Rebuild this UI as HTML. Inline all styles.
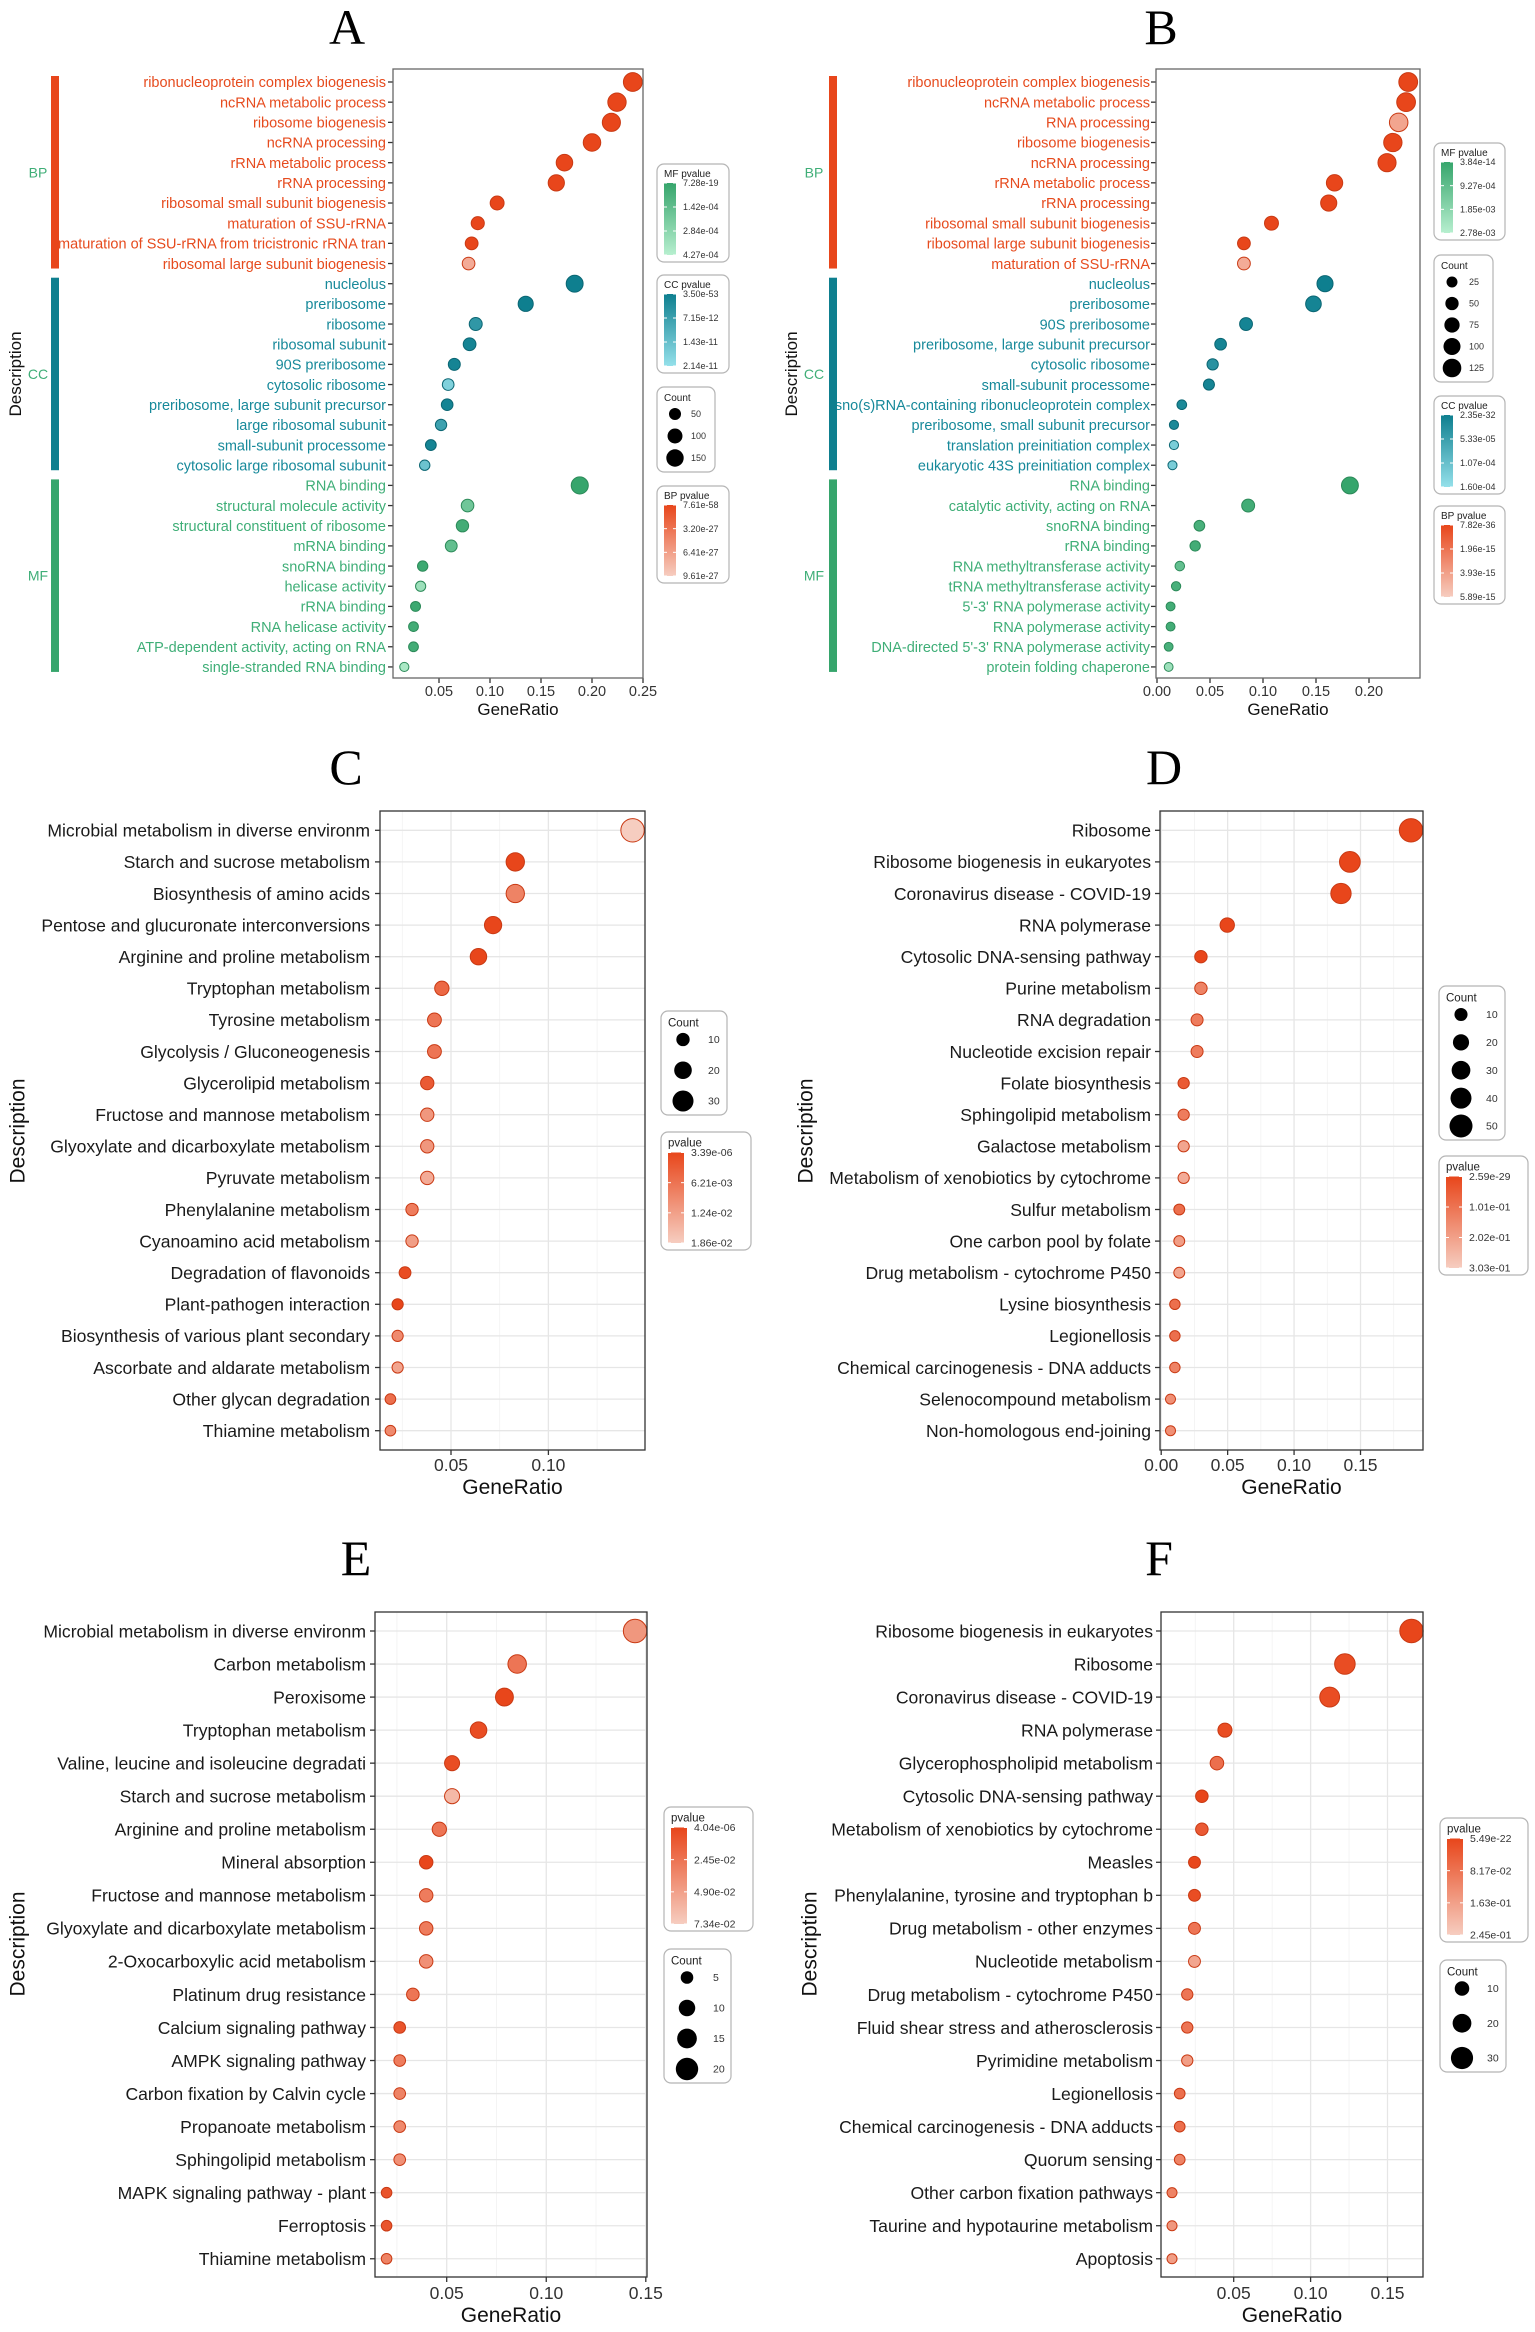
<!DOCTYPE html>
<html><head><meta charset="utf-8">
<style>
html,body{margin:0;padding:0;background:#fff;}
svg{display:block;font-family:"Liberation Sans",sans-serif;}
</style></head>
<body>
<svg id="fig" width="1535" height="2332" viewBox="0 0 1535 2332" xmlns="http://www.w3.org/2000/svg"></svg>
<script>
// ---------------- DATA ----------------
const catsA = ["ribonucleoprotein complex biogenesis","ncRNA metabolic process","ribosome biogenesis","ncRNA processing","rRNA metabolic process","rRNA processing","ribosomal small subunit biogenesis","maturation of SSU-rRNA","maturation of SSU-rRNA from tricistronic rRNA tran","ribosomal large subunit biogenesis",
"nucleolus","preribosome","ribosome","ribosomal subunit","90S preribosome","cytosolic ribosome","preribosome, large subunit precursor","large ribosomal subunit","small-subunit processome","cytosolic large ribosomal subunit",
"RNA binding","structural molecule activity","structural constituent of ribosome","mRNA binding","snoRNA binding","helicase activity","rRNA binding","RNA helicase activity","ATP-dependent activity, acting on RNA","single-stranded RNA binding"];
const groupA = ["BP","BP","BP","BP","BP","BP","BP","BP","BP","BP","CC","CC","CC","CC","CC","CC","CC","CC","CC","CC","MF","MF","MF","MF","MF","MF","MF","MF","MF","MF"];
const ratioA = [0.240,0.2245,0.219,0.200,0.173,0.165,0.107,0.088,0.082,0.079, 0.183,0.135,0.086,0.080,0.065,0.059,0.058,0.052,0.042,0.036, 0.188,0.078,0.073,0.062,0.034,0.032,0.027,0.025,0.025,0.016];
const countA = [182,171,166,152,131,125,81,67,62,60, 139,103,65,61,49,45,44,40,32,27, 143,59,55,47,26,24,21,19,19,12];
const shadeA = [0,0,0,0,0,0,0,0,0,0.75, 0,0,0.25,0.05,0.05,0.85,0.05,0.35,0.05,0.7, 0,0.45,0.1,0.35,0.05,0.8,0.05,0.1,0.1,0.9];
const ticksA = [0.05,0.10,0.15,0.20,0.25];
const tickLabelsA = ["0.05","0.10","0.15","0.20","0.25"];
const sizeLegA = [50,100,150];

const catsB = ["ribonucleoprotein complex biogenesis","ncRNA metabolic process","RNA processing","ribosome biogenesis","ncRNA processing","rRNA metabolic process","rRNA processing","ribosomal small subunit biogenesis","ribosomal large subunit biogenesis","maturation of SSU-rRNA",
"nucleolus","preribosome","90S preribosome","preribosome, large subunit precursor","cytosolic ribosome","small-subunit processome","sno(s)RNA-containing ribonucleoprotein complex","preribosome, small subunit precursor","translation preinitiation complex","eukaryotic 43S preinitiation complex",
"RNA binding","catalytic activity, acting on RNA","snoRNA binding","rRNA binding","RNA methyltransferase activity","tRNA methyltransferase activity","5'-3' RNA polymerase activity","RNA polymerase activity","DNA-directed 5'-3' RNA polymerase activity","protein folding chaperone"];
const groupB = groupA.slice();
const ratioB = [0.237,0.235,0.228,0.2225,0.217,0.1675,0.162,0.108,0.082,0.082, 0.1585,0.1476,0.084,0.060,0.0525,0.049,0.0234,0.016,0.016,0.0146, 0.182,0.086,0.040,0.036,0.0215,0.018,0.0128,0.0128,0.011,0.011];
const countB = [128,127,123,120,117,90,87,58,44,44, 86,80,45,32,28,26,13,9,9,8, 98,46,22,19,12,10,7,7,6,6];
const shadeB = [0,0,0.7,0,0,0,0,0,0,0.75, 0,0.05,0.05,0.05,0.2,0.05,0.1,0.1,0.8,0.8, 0,0.1,0.15,0.1,0.35,0.15,0.1,0.1,0.15,0.8];
const ticksB = [0,0.05,0.10,0.15,0.20];
const tickLabelsB = ["0.00","0.05","0.10","0.15","0.20"];
const sizeLegB = [25,50,75,100,125];

const catsC = ["Microbial metabolism in diverse environm","Starch and sucrose metabolism","Biosynthesis of amino acids","Pentose and glucuronate interconversions","Arginine and proline metabolism","Tryptophan metabolism","Tyrosine metabolism","Glycolysis / Gluconeogenesis","Glycerolipid metabolism","Fructose and mannose metabolism","Glyoxylate and dicarboxylate metabolism","Pyruvate metabolism","Phenylalanine metabolism","Cyanoamino acid metabolism","Degradation of flavonoids","Plant-pathogen interaction","Biosynthesis of various plant secondary ","Ascorbate and aldarate metabolism","Other glycan degradation","Thiamine metabolism"];
const ratioC = [0.1432,0.083,0.083,0.0716,0.0641,0.0453,0.0415,0.0415,0.0378,0.0378,0.0378,0.0378,0.030,0.030,0.0264,0.0226,0.0226,0.0226,0.0189,0.0189];
const countC = [38,22,22,19,17,12,11,11,10,10,10,10,8,8,7,6,6,6,5,5];
const shadeC = [1,0,0.45,0,0,0.25,0.35,0.35,0.15,0.6,0.6,0.75,0.4,0.65,0.05,0,0.5,0.7,0.3,0.5];
const ticksC = [0.05,0.10];
const tickLabelsC = ["0.05","0.10"];
const sizeLegC = [10,20,30];
const pLabC = ["3.39e-06","6.21e-03","1.24e-02","1.86e-02"];

const catsD = ["Ribosome","Ribosome biogenesis in eukaryotes","Coronavirus disease - COVID-19","RNA polymerase","Cytosolic DNA-sensing pathway","Purine metabolism","RNA degradation","Nucleotide excision repair","Folate biosynthesis","Sphingolipid metabolism","Galactose metabolism","Metabolism of xenobiotics by cytochrome ","Sulfur metabolism","One carbon pool by folate","Drug metabolism - cytochrome P450","Lysine biosynthesis","Legionellosis","Chemical carcinogenesis - DNA adducts","Selenocompound metabolism","Non-homologous end-joining"];
const ratioD = [0.188,0.142,0.1353,0.0497,0.0299,0.0299,0.027,0.027,0.0169,0.0169,0.0169,0.0169,0.0136,0.0136,0.0136,0.0103,0.0103,0.0103,0.007,0.007];
const countD = [52,39,37,14,8,8,7,7,5,5,5,5,4,4,4,3,3,3,2,2];
const shadeD = [0,0,0,0,0,0.45,0.4,0.4,0.15,0.4,0.7,0.75,0.3,0.65,0.7,0.3,0.3,0.45,0.55,0.55];
const ticksD = [0,0.05,0.10,0.15];
const tickLabelsD = ["0.00","0.05","0.10","0.15"];
const sizeLegD = [10,20,30,40,50];
const pLabD = ["2.59e-29","1.01e-01","2.02e-01","3.03e-01"];

const catsE = ["Microbial metabolism in diverse environm","Carbon metabolism","Peroxisome","Tryptophan metabolism","Valine, leucine and isoleucine degradati","Starch and sucrose metabolism","Arginine and proline metabolism","Mineral absorption","Fructose and mannose metabolism","Glyoxylate and dicarboxylate metabolism","2-Oxocarboxylic acid metabolism","Platinum drug resistance","Calcium signaling pathway","AMPK signaling pathway","Carbon fixation by Calvin cycle","Propanoate metabolism","Sphingolipid metabolism","MAPK signaling pathway - plant","Ferroptosis","Thiamine metabolism"];
const ratioE = [0.1446,0.0854,0.079,0.066,0.0527,0.0527,0.0463,0.0397,0.0397,0.0397,0.0397,0.033,0.0264,0.0264,0.0264,0.0264,0.0264,0.0198,0.0198,0.0198];
const countE = [22,13,12,10,8,8,7,6,6,6,6,5,4,4,4,4,4,3,3,3];
const shadeE = [0.6,0.35,0,0.05,0.05,0.85,0.35,0,0.4,0.4,0.55,0.35,0.1,0.4,0.45,0.5,0.55,0.1,0.1,0.45];
const ticksE = [0.05,0.10,0.15];
const tickLabelsE = ["0.05","0.10","0.15"];
const sizeLegE = [5,10,15,20];
const pLabE = ["4.04e-06","2.45e-02","4.90e-02","7.34e-02"];

const catsF = ["Ribosome biogenesis in eukaryotes","Ribosome","Coronavirus disease - COVID-19","RNA polymerase","Glycerophospholipid metabolism","Cytosolic DNA-sensing pathway","Metabolism of xenobiotics by cytochrome ","Measles","Phenylalanine, tyrosine and tryptophan b","Drug metabolism - other enzymes","Nucleotide metabolism","Drug metabolism - cytochrome P450","Fluid shear stress and atherosclerosis","Pyrimidine metabolism","Legionellosis","Chemical carcinogenesis - DNA adducts","Quorum sensing","Other carbon fixation pathways","Taurine and hypotaurine metabolism","Apoptosis"];
const ratioF = [0.1656,0.1223,0.1124,0.0443,0.0391,0.0293,0.0293,0.0245,0.0245,0.0245,0.0245,0.0198,0.0198,0.0198,0.0149,0.0149,0.0149,0.0099,0.0099,0.0099];
const countF = [34,25,23,9,8,6,6,5,5,5,5,4,4,4,3,3,3,2,2,2];
const shadeF = [0,0.05,0.05,0.05,0.3,0,0.15,0,0.05,0.35,0.7,0.35,0.35,0.65,0.3,0.3,0.45,0.45,0.6,0.65];
const ticksF = [0.05,0.10,0.15];
const tickLabelsF = ["0.05","0.10","0.15"];
const sizeLegF = [10,20,30];
const pLabF = ["5.49e-22","8.17e-02","1.63e-01","2.45e-01"];

const pLabA_MF = ["7.28e-19","1.42e-04","2.84e-04","4.27e-04"];
const pLabA_CC = ["3.50e-53","7.15e-12","1.43e-11","2.14e-11"];
const pLabA_BP = ["7.61e-58","3.20e-27","6.41e-27","9.61e-27"];
const pLabB_MF = ["3.84e-14","9.27e-04","1.85e-03","2.78e-03"];
const pLabB_CC = ["2.35e-32","5.33e-05","1.07e-04","1.60e-04"];
const pLabB_BP = ["7.82e-36","1.96e-15","3.93e-15","5.89e-15"];

// ---------------- HELPERS ----------------
const NS = "http://www.w3.org/2000/svg";
const svg = document.getElementById("fig");
function mk(tag, attrs, parent){
  const e = document.createElementNS(NS, tag);
  for (const k in attrs) e.setAttribute(k, attrs[k]);
  (parent || svg).appendChild(e);
  return e;
}
const PAL = {
  red:  {dark:[232,70,27],  light:[246,205,192], text:"#e64b1e", stroke:"#c93a14"},
  teal: {dark:[14,127,143], light:[148,224,234], text:"#17899a", stroke:"#0b6673"},
  green:{dark:[54,165,108], light:[183,239,207], text:"#3fae77", stroke:"#2c8a59"}
};
const GCOL = {BP:"red", CC:"teal", MF:"green"};
function mix(p, t){
  const c = p.dark.map((d,i)=>Math.round(d + (p.light[i]-d)*t));
  return "rgb(" + c.join(",") + ")";
}
const defs = mk("defs", {});
Object.keys(PAL).forEach(k=>{
  const g = mk("linearGradient", {id:"grad-"+k, x1:0, y1:0, x2:0, y2:1}, defs);
  mk("stop", {offset:"0", "stop-color":mix(PAL[k],0)}, g);
  mk("stop", {offset:"1", "stop-color":mix(PAL[k],1)}, g);
});

function colorLegend(g, x, y, w, h, title, labels, palKey, fs, barW){
  const lg = mk("g", {}, g);
  
  
  mk("rect", {x:x, y:y, width:w, height:h, rx:7, fill:"#fff", stroke:"#b5b5b5", "stroke-width":1.2}, lg);
  mk("text", {x:x+7, y:y+fs+4, "font-size":fs+1, fill:"#222"}, lg).textContent = title;
  const by0 = y + fs + 10, by1 = y + h - 7;
  mk("rect", {x:x+7, y:by0, width:barW, height:by1-by0, fill:"url(#grad-"+palKey+")"}, lg);
  labels.forEach((lab,i)=>{
    const yy = by0 + (by1-by0)*i/(labels.length-1);
    mk("line", {x1:x+7, x2:x+10, y1:yy, y2:yy, stroke:"#fff", "stroke-width":1}, lg);
    mk("line", {x1:x+7+barW-3, x2:x+7+barW, y1:yy, y2:yy, stroke:"#fff", "stroke-width":1}, lg);
    const t = mk("text", {x:x+barW+14, y:yy+fs*0.35, "font-size":fs, fill:"#333"}, lg);
    t.textContent = lab;
  });
}
function sizeLegend(g, x, y, w, h, vals, rfun, fs, dotDx, labDx){
  const lg = mk("g", {}, g);
  
  
  mk("rect", {x:x, y:y, width:w, height:h, rx:7, fill:"#fff", stroke:"#b5b5b5", "stroke-width":1.2}, lg);
  mk("text", {x:x+7, y:y+fs+5, "font-size":fs+1, fill:"#222"}, lg).textContent = "Count";
  const y0 = y + fs + 18, y1 = y + h - 14;
  vals.forEach((v,i)=>{
    const yy = vals.length>1 ? y0 + (y1-y0)*i/(vals.length-1) : y0;
    const c = mk("circle", {cx:x+dotDx, cy:yy, r:rfun(v), fill:"#000"}, lg);
    
    
    mk("text", {x:x+labDx, y:yy+fs*0.35, "font-size":fs, fill:"#333"}, lg).textContent = v;
  });
}

function panel(P){
  const g = mk("g", {});
  
  
  const n = P.cats.length;
  const xs = v => P.x0 + (v - P.v0) * P.k;
  const ys = i => P.row0 + i * P.step;
  const cmin = Math.min.apply(null, P.count), cmax = Math.max.apply(null, P.count);
  const rfun = c => { const f = Math.max(0, Math.min(1.2, (c - cmin) / (cmax - cmin || 1))); return Math.sqrt(P.rmin*P.rmin + (P.rmax*P.rmax - P.rmin*P.rmin) * f); };
  const tt = mk("text", {x:P.titleX, y:P.titleY, "font-size":50, "font-family":"Liberation Serif, serif", "text-anchor":"middle", fill:"#000"}, g);
  tt.textContent = P.letter;
  
  
  const b = P.box;
  mk("rect", {x:b[0], y:b[1], width:b[2]-b[0], height:b[3]-b[1], fill:"#fff"}, g);
  if (P.grid){
    const gg = mk("g", {}, g);
    
    
    const step = P.ticks[1] - P.ticks[0];
    for (let v = P.ticks[0] - step*2; v <= P.ticks[P.ticks.length-1] + step*2; v += step/2){
      const X = xs(v);
      if (X <= b[0]+0.5 || X >= b[2]-0.5) continue;
      const major = Math.abs(Math.round(v/step)*step - v) < 1e-9;
      mk("line", {x1:X, x2:X, y1:b[1], y2:b[3], stroke: major ? "#e6e6e6" : "#f2f2f2", "stroke-width": major ? 1.3 : 0.8}, gg);
    }
    for (let i = 0; i < n; i++) mk("line", {x1:b[0], x2:b[2], y1:ys(i), y2:ys(i), stroke:"#e6e6e6", "stroke-width":1.3}, gg);
  }
  for (let i = 0; i < n; i++){
    const col = P.group ? PAL[GCOL[P.group[i]]].text : "#1a1a1a";
    const t = mk("text", {x:P.labX, y:ys(i) + P.lfs*0.36, "font-size":P.lfs, "text-anchor":"end", fill:col, "xml:space":"preserve"}, g);
    t.textContent = P.cats[i];
    
    
    mk("line", {x1:b[0]-5, x2:b[0], y1:ys(i), y2:ys(i), stroke:"#333", "stroke-width":1.3}, g);
  }
  P.ticks.forEach((v,i)=>{
    const X = xs(v);
    mk("line", {x1:X, x2:X, y1:b[3], y2:b[3]+5, stroke:"#333", "stroke-width":1.3}, g);
    const t = mk("text", {x:X, y:b[3]+P.xtOff, "font-size":P.xfs, "text-anchor":"middle", fill:"#333"}, g);
    t.textContent = P.tickLabels[i];
    
    
  });
  const xt = mk("text", {x:(b[0]+b[2])/2, y:b[3]+P.xtitOff, "font-size":P.xtfs, "text-anchor":"middle", fill:"#111"}, g);
  xt.textContent = "GeneRatio";
  
  
  const yt = mk("text", {x:0, y:0, "font-size":P.ytfs, "text-anchor":"middle", fill:"#111", transform:"translate("+P.descX+","+P.descY+") rotate(-90)", dy:"0.35em"}, g);
  yt.textContent = "Description";
  
  
  if (P.group){
    ["BP","CC","MF"].forEach(G=>{
      const idx = []; P.group.forEach((gg,i)=>{ if (gg===G) idx.push(i); });
      if (!idx.length) return;
      const y0 = ys(idx[0]) - 6, y1 = ys(idx[idx.length-1]) + 5;
      const r = mk("rect", {x:P.barX, y:y0, width:8, height:y1-y0, fill:mix(PAL[GCOL[G]],0)}, g);
      
      
      const t = mk("text", {x:P.grpX, y:(y0+y1)/2 + 5, "font-size":14, "text-anchor":"middle", fill:"#3fae77"}, g);
      t.textContent = G;
      
      
    });
  }
  for (let i = 0; i < n; i++){
    const pk = P.group ? GCOL[P.group[i]] : "red";
    const c = mk("circle", {cx:xs(P.ratio[i]), cy:ys(i), r:rfun(P.count[i]), fill:mix(PAL[pk], P.shade[i]), stroke:PAL[pk].stroke, "stroke-width":1}, g);
    
    
  }
  mk("rect", {x:b[0], y:b[1], width:b[2]-b[0], height:b[3]-b[1], fill:"none", stroke:P.grid ? "#333" : "#666", "stroke-width":1.3}, g);
  P.legends.forEach(L=>{
    if (L.type === "size") sizeLegend(g, L.x, L.y, L.w, L.h, L.vals, rfun, L.fs, L.dotDx, L.labDx);
    else colorLegend(g, L.x, L.y, L.w, L.h, L.title, L.labels, L.pal, L.fs, L.barW);
  });
}

// ---------------- PANELS ----------------
panel({name:"panel-a", letter:"A", titleX:347, titleY:44, cats:catsA, group:groupA, ratio:ratioA, count:countA, shade:shadeA,
  ticks:ticksA, tickLabels:tickLabelsA, x0:439, v0:0.05, k:1020, row0:82, step:20.17, box:[393,69,643,678],
  labX:386, lfs:14.5, xfs:14.5, xtOff:18, xtfs:17, xtitOff:37, ytfs:17, descX:15, descY:374,
  barX:51, grpX:38, rmin:4.6, rmax:9.4, grid:false,
  legends:[
    {type:"color", x:657, y:164, w:72, h:98, title:"MF pvalue", labels:pLabA_MF, pal:"green", fs:9, barW:12},
    {type:"color", x:657, y:275, w:72, h:98, title:"CC pvalue", labels:pLabA_CC, pal:"teal", fs:9, barW:12},
    {type:"size", x:657, y:387, w:58, h:85, vals:sizeLegA, fs:9, dotDx:18, labDx:34},
    {type:"color", x:657, y:486, w:72, h:97, title:"BP pvalue", labels:pLabA_BP, pal:"red", fs:9, barW:12}
  ]});
panel({name:"panel-b", letter:"B", titleX:1161, titleY:44, cats:catsB, group:groupB, ratio:ratioB, count:countB, shade:shadeB,
  ticks:ticksB, tickLabels:tickLabelsB, x0:1157, v0:0, k:1060, row0:82, step:20.17, box:[1156,69,1420,678],
  labX:1150, lfs:14.5, xfs:14.5, xtOff:18, xtfs:17, xtitOff:37, ytfs:17, descX:791, descY:374,
  barX:829, grpX:814, rmin:4.4, rmax:9.4, grid:false,
  legends:[
    {type:"color", x:1434, y:143, w:71, h:97, title:"MF pvalue", labels:pLabB_MF, pal:"green", fs:9, barW:12},
    {type:"size", x:1434, y:255, w:59, h:127, vals:sizeLegB, fs:9, dotDx:18, labDx:35},
    {type:"color", x:1434, y:396, w:71, h:98, title:"CC pvalue", labels:pLabB_CC, pal:"teal", fs:9, barW:12},
    {type:"color", x:1434, y:506, w:71, h:98, title:"BP pvalue", labels:pLabB_BP, pal:"red", fs:9, barW:12}
  ]});
panel({name:"panel-c", letter:"C", titleX:346, titleY:784, cats:catsC, ratio:ratioC, count:countC, shade:shadeC,
  ticks:ticksC, tickLabels:tickLabelsC, x0:451, v0:0.05, k:1948, row0:830.3, step:31.6, box:[380,811,645,1450],
  labX:370, lfs:17.6, xfs:17.5, xtOff:21, xtfs:21, xtitOff:44, ytfs:21, descX:17, descY:1131,
  rmin:5.3, rmax:11.7, grid:true,
  legends:[
    {type:"size", x:661, y:1011, w:66, h:104, vals:sizeLegC, fs:10.5, dotDx:22, labDx:47},
    {type:"color", x:661, y:1132, w:90, h:118, title:"pvalue", labels:pLabC, pal:"red", fs:10.5, barW:16}
  ]});
panel({name:"panel-d", letter:"D", titleX:1164, titleY:784, cats:catsD, ratio:ratioD, count:countD, shade:shadeD,
  ticks:ticksD, tickLabels:tickLabelsD, x0:1161.2, v0:0, k:1328.7, row0:830.3, step:31.6, box:[1160,811,1423,1450],
  labX:1151, lfs:17.6, xfs:17.5, xtOff:21, xtfs:21, xtitOff:44, ytfs:21, descX:805, descY:1131,
  rmin:5, rmax:11.7, grid:true,
  legends:[
    {type:"size", x:1439, y:986, w:66, h:154, vals:sizeLegD, fs:10.5, dotDx:22, labDx:47},
    {type:"color", x:1439, y:1156, w:89, h:119, title:"pvalue", labels:pLabD, pal:"red", fs:10.5, barW:16}
  ]});
panel({name:"panel-e", letter:"E", titleX:356, titleY:1575, cats:catsE, ratio:ratioE, count:countE, shade:shadeE,
  ticks:ticksE, tickLabels:tickLabelsE, x0:446.7, v0:0.05, k:1991, row0:1631, step:33.04, box:[375,1612,647,2277],
  labX:366, lfs:17.6, xfs:17.5, xtOff:22, xtfs:21, xtitOff:45, ytfs:21, descX:17, descY:1944,
  rmin:5.3, rmax:11.7, grid:true,
  legends:[
    {type:"color", x:664, y:1807, w:89, h:124, title:"pvalue", labels:pLabE, pal:"red", fs:10.5, barW:16},
    {type:"size", x:664, y:1949, w:67, h:134, vals:sizeLegE, fs:10.5, dotDx:23, labDx:49}
  ]});
panel({name:"panel-f", letter:"F", titleX:1159, titleY:1575, cats:catsF, ratio:ratioF, count:countF, shade:shadeF,
  ticks:ticksF, tickLabels:tickLabelsF, x0:1233.7, v0:0.05, k:1538, row0:1631, step:33.04, box:[1161,1612,1423,2277],
  labX:1153, lfs:17.6, xfs:17.5, xtOff:22, xtfs:21, xtitOff:45, ytfs:21, descX:809, descY:1944,
  rmin:5, rmax:11.7, grid:true,
  legends:[
    {type:"color", x:1440, y:1818, w:88, h:124, title:"pvalue", labels:pLabF, pal:"red", fs:10.5, barW:16},
    {type:"size", x:1440, y:1960, w:66, h:112, vals:sizeLegF, fs:10.5, dotDx:22, labDx:47}
  ]});
</script>
</body></html>
